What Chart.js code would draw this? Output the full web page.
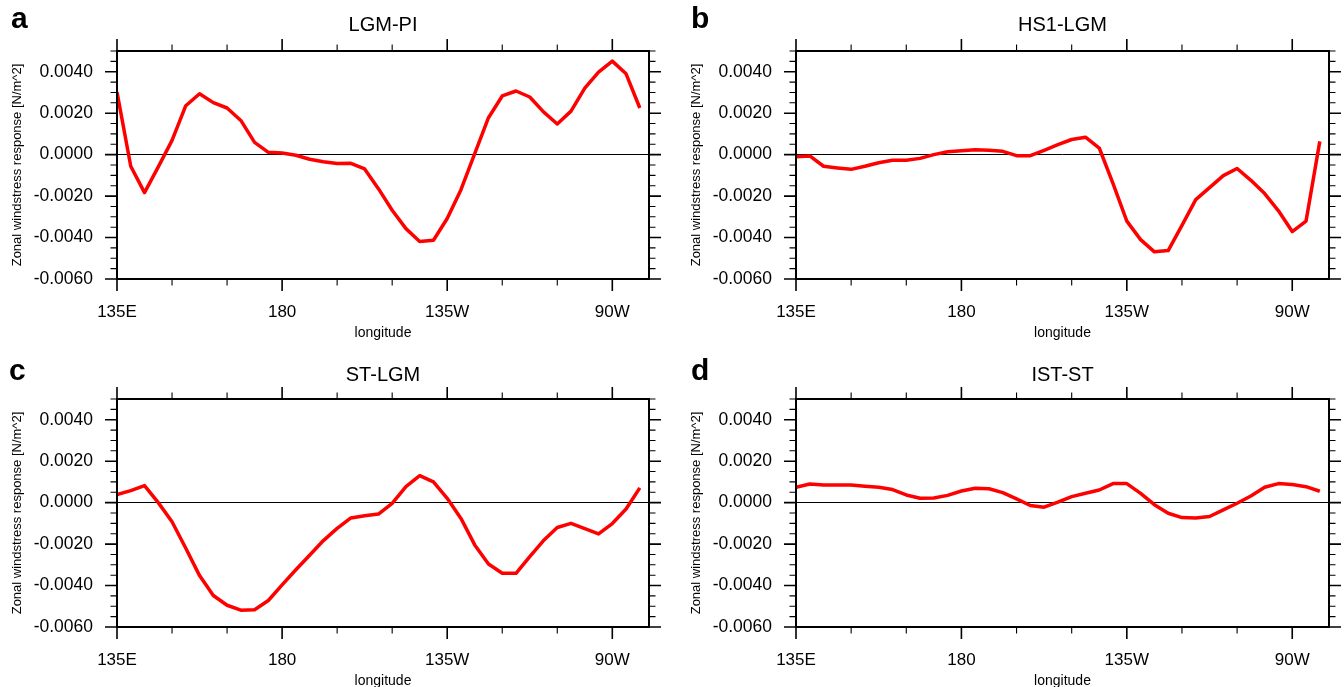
<!DOCTYPE html>
<html>
<head>
<meta charset="utf-8">
<script src="https://cdn.jsdelivr.net/npm/chart.js@4"></script>
<style>
    body { margin: 0; background: #fff; overflow: hidden; width: 1344px; height: 687px; position: relative; }
    canvas { position: absolute; }
</style>
</head>
<body>
<canvas id="pa" width="672" height="348" style="left:0px; top:0px;"></canvas>
<canvas id="pb" width="672" height="348" style="left:672px; top:0px;"></canvas>
<canvas id="pc" width="672" height="348" style="left:0px; top:348px;"></canvas>
<canvas id="pd" width="672" height="348" style="left:672px; top:348px;"></canvas>
<script>
// longitude (degrees east), one value every 3.75 deg
const lon = [135, 138.75, 142.5, 146.25, 150, 153.75, 157.5, 161.25, 165, 168.75,
    172.5, 176.25, 180, 183.75, 187.5, 191.25, 195, 198.75, 202.5, 206.25,
    210, 213.75, 217.5, 221.25, 225, 228.75, 232.5, 236.25, 240, 243.75,
    247.5, 251.25, 255, 258.75, 262.5, 266.25, 270, 273.75, 277.5];

// zonal windstress response [N/m^2]
const lgmPi = [0.00302, -0.00056, -0.00183, -0.00059, 0.00069, 0.00236, 0.00294, 0.00251, 0.00225, 0.00165,
    0.00059, 0.00011, 0.00008, -0.00003, -0.00022, -0.00034, -0.00043, -0.00042, -0.00069, -0.00164,
    -0.00268, -0.00357, -0.00419, -0.00413, -0.00308, -0.00169, 0.00005, 0.00178, 0.00283, 0.00307,
    0.00278, 0.00206, 0.00148, 0.00210, 0.00321, 0.00398, 0.00451, 0.00390, 0.00225];
const hs1Lgm = [-0.00010, -0.00006, -0.00056, -0.00064, -0.00071, -0.00056, -0.00039, -0.00027, -0.00027, -0.00018,
    0.00000, 0.00014, 0.00019, 0.00024, 0.00021, 0.00016, -0.00005, -0.00005, 0.00021, 0.00048,
    0.00073, 0.00084, 0.00032, -0.00140, -0.00321, -0.00410, -0.00469, -0.00463, -0.00341, -0.00217,
    -0.00159, -0.00101, -0.00067, -0.00124, -0.00188, -0.00271, -0.00371, -0.00321, 0.00064];
const stLgm = [0.00039, 0.00058, 0.00082, 0.00000, -0.00092, -0.00220, -0.00352, -0.00448, -0.00495, -0.00519,
    -0.00517, -0.00472, -0.00397, -0.00324, -0.00254, -0.00183, -0.00124, -0.00074, -0.00063, -0.00055,
    -0.00003, 0.00077, 0.00130, 0.00100, 0.00021, -0.00076, -0.00204, -0.00296, -0.00341, -0.00341,
    -0.00260, -0.00183, -0.00120, -0.00100, -0.00125, -0.00151, -0.00101, -0.00031, 0.00071];
const istSt = [0.00074, 0.00090, 0.00085, 0.00085, 0.00085, 0.00079, 0.00074, 0.00063, 0.00037, 0.00021,
    0.00022, 0.00035, 0.00056, 0.00069, 0.00067, 0.00048, 0.00018, -0.00014, -0.00022, 0.00002,
    0.00029, 0.00045, 0.00061, 0.00092, 0.00092, 0.00045, -0.00010, -0.00051, -0.00072, -0.00074,
    -0.00067, -0.00035, -0.00003, 0.00032, 0.00074, 0.00092, 0.00087, 0.00077, 0.00055];

// axis ticks
const xTicks = [135, 180, 225, 270];
const xTickLabels = ['135E', '180', '135W', '90W'];
const xMinorTicks = [135, 150, 165, 180, 195, 210, 225, 240, 255, 270];
const yTicks = [-0.006, -0.004, -0.002, 0, 0.002, 0.004];
const yMinorTicks = [-0.006, -0.0055, -0.005, -0.0045, -0.004, -0.0035, -0.003, -0.0025, -0.002, -0.0015,
    -0.001, -0.0005, 0, 0.0005, 0.001, 0.0015, 0.002, 0.0025, 0.003, 0.0035, 0.004, 0.0045, 0.005];

const FONT = '"Liberation Sans", Arial, Helvetica, sans-serif';

function isMajor(list, v) {
    return list.some(m => Math.abs(m - v) < 1e-9);
}

// outward tick marks on all four sides, the frame and the panel letter
const frameTicks = {
    id: 'frameTicks',
    afterDraw(chart, args, opts) {
        const { ctx, chartArea: a, scales: { x, y } } = chart;
        ctx.save();
        ctx.strokeStyle = '#000';

        xMinorTicks.forEach(v => {
            const px = x.getPixelForValue(v);
            const major = isMajor(xTicks, v);
            const len = major ? 12 : 6.5;
            ctx.lineWidth = major ? 1.6 : 1.1;
            ctx.beginPath();
            ctx.moveTo(px, a.bottom); ctx.lineTo(px, a.bottom + len);
            ctx.moveTo(px, a.top); ctx.lineTo(px, a.top - len);
            ctx.stroke();
        });

        yMinorTicks.forEach(v => {
            const py = y.getPixelForValue(v);
            const major = isMajor(yTicks, v);
            const len = major ? 12 : 6.5;
            ctx.lineWidth = major ? 1.6 : 1.1;
            ctx.beginPath();
            ctx.moveTo(a.left, py); ctx.lineTo(a.left - len, py);
            ctx.moveTo(a.right, py); ctx.lineTo(a.right + len, py);
            ctx.stroke();
        });

        ctx.lineWidth = 2;
        ctx.strokeRect(a.left, a.top, a.right - a.left, a.bottom - a.top);

        ctx.fillStyle = '#000';
        ctx.font = 'bold 30px ' + FONT;
        ctx.textAlign = 'left';
        ctx.textBaseline = 'middle';
        ctx.fillText(opts.letter, opts.letterX, opts.letterY);
        ctx.restore();
    }
};

function makePanel(id, letter, title, values, p) {
    const ctx = document.getElementById(id).getContext('2d');
    new Chart(ctx, {
        type: 'line',
        data: {
            datasets: [{
                data: lon.map((v, i) => ({ x: v, y: values[i] })),
                borderColor: '#ff0000',
                borderWidth: 3.5,
                borderJoinStyle: 'round',
                pointRadius: 0,
                tension: 0
            }]
        },
        options: {
            responsive: false,
            animation: false,
            layout: { padding: { left: 0, right: p.padRight, top: 0, bottom: 0 } },
            plugins: {
                legend: { display: false },
                tooltip: { enabled: false },
                title: {
                    display: true,
                    text: title,
                    fullSize: false,
                    color: '#000',
                    font: { family: FONT, size: 20, weight: 'normal' },
                    padding: { top: p.titleTop, bottom: 51 - p.titleTop - 24 }
                },
                frameTicks: { letter: letter, letterX: p.letterX, letterY: p.letterY }
            },
            scales: {
                x: {
                    type: 'linear',
                    min: 135,
                    max: 280,
                    afterBuildTicks: s => { s.ticks = xTicks.map(v => ({ value: v })); },
                    afterFit: s => { s.height = 69; },
                    grid: { display: false, drawTicks: false },
                    border: { display: false },
                    ticks: {
                        padding: 23,
                        color: '#000',
                        autoSkip: false,
                        maxRotation: 0,
                        font: { family: FONT, size: 17 },
                        callback: v => xTickLabels[xTicks.indexOf(v)]
                    },
                    title: {
                        display: true,
                        text: 'longitude',
                        color: '#000',
                        font: { family: FONT, size: 14 },
                        padding: { top: 0, bottom: 6.6 }
                    }
                },
                y: {
                    min: -0.006,
                    max: 0.005,
                    afterBuildTicks: s => { s.ticks = yTicks.map(v => ({ value: v })); },
                    afterFit: s => { s.width = p.yWidth; },
                    grid: {
                        drawTicks: false,
                        lineWidth: 1,
                        color: c => (c.tick && c.tick.value === 0) ? '#000' : 'rgba(0,0,0,0)'
                    },
                    border: { display: false },
                    ticks: {
                        padding: 24,
                        color: '#000',
                        font: { family: FONT, size: 17.5 },
                        callback: v => v.toFixed(4)
                    },
                    title: {
                        display: true,
                        text: 'Zonal windstress response [N/m^2]',
                        color: '#000',
                        font: { family: FONT, size: 13 },
                        padding: { top: p.yTitlePad, bottom: 0 }
                    }
                }
            }
        },
        plugins: [frameTicks]
    });
}

makePanel('pa', 'a', 'LGM-PI', lgmPi, { padRight: 23, yWidth: 117, titleTop: 13, yTitlePad: 10, letterX: 11, letterY: 20 });
makePanel('pb', 'b', 'HS1-LGM', hs1Lgm, { padRight: 15, yWidth: 124, titleTop: 13, yTitlePad: 17, letterX: 19, letterY: 20 });
makePanel('pc', 'c', 'ST-LGM', stLgm, { padRight: 23, yWidth: 117, titleTop: 15, yTitlePad: 10, letterX: 9, letterY: 24 });
makePanel('pd', 'd', 'IST-ST', istSt, { padRight: 15, yWidth: 124, titleTop: 15, yTitlePad: 17, letterX: 19, letterY: 24 });
</script>
</body>
</html>
